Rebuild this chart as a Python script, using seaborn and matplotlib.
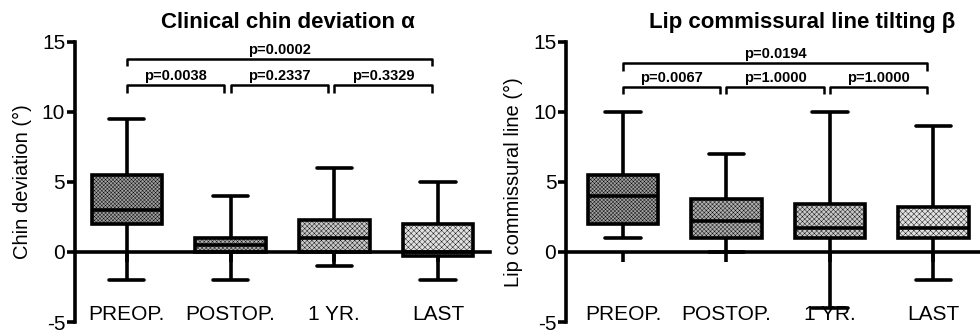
import pandas as pd
import matplotlib
matplotlib.use('Agg')
import matplotlib.pyplot as plt
import seaborn as sns

# ==========================
# Data (five-number summaries: min, Q1, median, Q3, max)
# ==========================
PERIODS = ['PREOP.', 'POSTOP.', '1 YR.', 'LAST']

CHIN_PREOP = [-2, 2, 3, 5.5, 9.5]
CHIN_POSTOP = [-2, 0, 0.5, 1, 4]
CHIN_1YR = [-1, 0, 1, 2.3, 6]
CHIN_LAST = [-2, -0.3, 0, 2, 5]

LIP_PREOP = [1, 2, 4, 5.5, 10]
LIP_POSTOP = [0, 1, 2.2, 3.8, 7]
LIP_1YR = [-4, 1, 1.7, 3.4, 10]
LIP_LAST = [-2, 1, 1.7, 3.2, 9]

# pairwise comparisons (group index a, group index b) and p labels
PAIRS = [(0, 1), (1, 2), (2, 3), (0, 3)]
CHIN_P = ['p=0.0038', 'p=0.2337', 'p=0.3329', 'p=0.0002']
LIP_P = ['p=0.0067', 'p=1.0000', 'p=1.0000', 'p=0.0194']

# ==========================
# Style
# ==========================
FILLS = ['#a0a0a0', '#b0b0b0', '#c8c8c8', '#e0e0e0']
HATCHES = ['xxxxxxxxx', 'xxxxxxxx', 'xxxxxxx', 'xxxxxx']
LW = 2.6

sns.set_style('ticks')
plt.rcParams['font.family'] = ['Liberation Sans', 'DejaVu Sans']
plt.rcParams['hatch.linewidth'] = 0.3
plt.rcParams['axes.unicode_minus'] = False
for key in ['axes.edgecolor', 'xtick.color', 'ytick.color', 'text.color',
            'axes.labelcolor', 'xtick.labelcolor', 'ytick.labelcolor']:
    plt.rcParams[key] = 'black'


def make_frame(groups):
    rows = []
    for name, vals in zip(PERIODS, groups):
        for v in vals:
            rows.append({'period': name, 'value': v})
    return pd.DataFrame(rows)


def draw_panel(ax, df, title, title_x, ylabel, plabels, bar_levels):
    sns.boxplot(data=df, x='period', y='value', hue='period', order=PERIODS,
                hue_order=PERIODS, palette=FILLS, whis=(0, 100), width=0.68,
                linewidth=LW, linecolor='black', legend=False, ax=ax)
    for patch, h in zip(ax.patches, HATCHES):
        patch.set_hatch(h)

    ax.set_ylim(-5, 15)
    ax.set_yticks([-5, 0, 5, 10, 15])
    ax.spines['top'].set_visible(False)
    ax.spines['right'].set_visible(False)
    ax.spines['bottom'].set_position(('data', 0))
    ax.spines['left'].set_linewidth(LW)
    ax.spines['bottom'].set_linewidth(LW)
    ax.tick_params(axis='y', length=6, width=LW, pad=1, labelsize=15)
    ax.tick_params(axis='x', length=7, width=LW, pad=31, labelsize=15)
    ax.set_xlabel('')
    ax.set_ylabel(ylabel, fontsize=14.5, labelpad=7)
    ax.set_title(title, fontsize=16, fontweight='bold', x=title_x, pad=10)

    # significance brackets
    for (a, b), lab in zip(PAIRS, plabels):
        top = bar_levels[1] if (b - a) > 1 else bar_levels[0]
        x0, x1 = a, b - 0.06
        ax.plot([x0, x0, x1, x1], [top - 0.55, top, top, top - 0.55],
                color='black', lw=1.8, clip_on=False, solid_capstyle='butt')
        ax.text((x0 + x1) / 2, top + 0.15, lab, ha='center', va='bottom',
                fontsize=10.5, fontweight='bold',
                family=['Liberation Sans Narrow', 'Liberation Sans'])


fig = plt.figure(figsize=(9.8, 3.33), dpi=100)
ax1 = fig.add_axes([0.0765, 0.033, 0.4235, 0.841])
ax2 = fig.add_axes([0.5776, 0.033, 0.4224, 0.841])

df_chin = make_frame([CHIN_PREOP, CHIN_POSTOP, CHIN_1YR, CHIN_LAST])
df_lip = make_frame([LIP_PREOP, LIP_POSTOP, LIP_1YR, LIP_LAST])

draw_panel(ax1, df_chin, 'Clinical chin deviation α', 0.512,
           'Chin deviation (°)', CHIN_P, (11.9, 13.8))
ax1.set_xlim(-0.5, 3.5)

draw_panel(ax2, df_lip, 'Lip commissural line tilting β', 0.57,
           'Lip commissural line (°)', LIP_P, (11.8, 13.5))
ax2.set_xlim(-0.55, 3.45)

fig.savefig('out.png', dpi=100)
